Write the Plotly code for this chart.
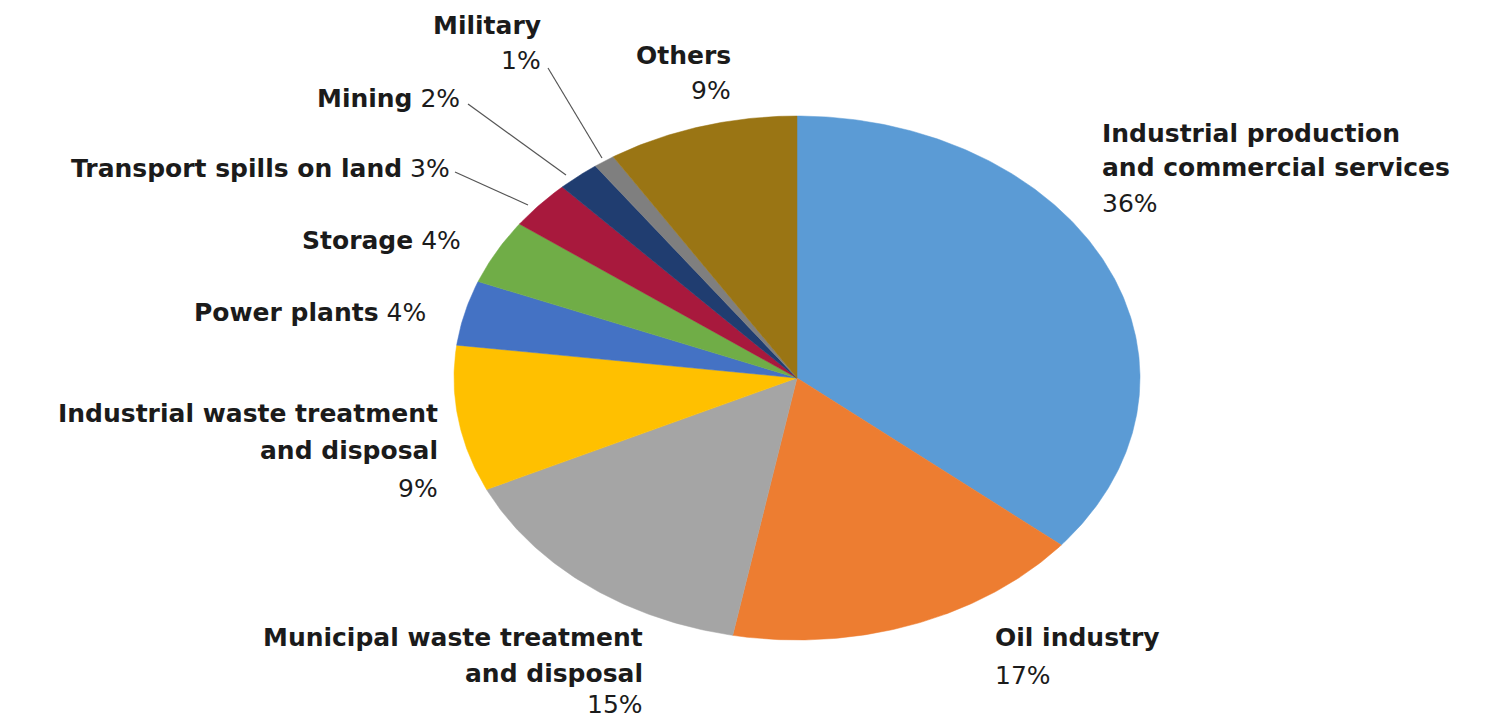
import numpy as np
import plotly.graph_objects as go

# Sources of soil contamination (share of sites, %)
categories = [
    "Industrial production and commercial services",
    "Oil industry",
    "Municipal waste treatment and disposal",
    "Industrial waste treatment and disposal",
    "Power plants",
    "Storage",
    "Transport spills on land",
    "Mining",
    "Military",
    "Others",
]
shares = [36, 17, 15, 9, 4, 4, 3, 2, 1, 9]
colors = [
    "#5B9BD5", "#ED7D31", "#A5A5A5", "#FFC000", "#4472C4",
    "#70AD47", "#A8193D", "#203D70", "#7F7F7F", "#9A7514",
]

W, H = 1496, 719
CX, CY, RX, RY = 797, 378, 343, 262

fig = go.Figure()

total = float(sum(shares))
start = 0.0
for name, val, col in zip(categories, shares, colors):
    end = start + val / total
    t = np.linspace(start, end, max(int(val * 6), 8)) * 2 * np.pi
    xs = np.concatenate([[CX], CX + RX * np.sin(t), [CX]])
    ys = np.concatenate([[CY], CY - RY * np.cos(t), [CY]])
    fig.add_trace(go.Scatter(
        x=xs, y=ys, mode="lines", fill="toself", fillcolor=col,
        line=dict(color=col, width=0.5), name=name, hoverinfo="name",
        showlegend=False,
    ))
    start = end

pct = {c: f"{v}%" for c, v in zip(categories, shares)}
FONT = "DejaVu Sans"
FS = 25
TXT = "#1b1b1b"


def label(text, x, y, anchor, bold=True):
    fig.add_annotation(
        x=x, y=y, xref="x", yref="y", text=f"<b>{text}</b>" if bold else text,
        showarrow=False, xanchor=anchor, yanchor="middle",
        font=dict(family=FONT, size=FS, color=TXT),
    )


def mixed(name, value, x, y, anchor):
    fig.add_annotation(
        x=x, y=y, xref="x", yref="y", text=f"<b>{name}</b> {value}",
        showarrow=False, xanchor=anchor, yanchor="middle",
        font=dict(family=FONT, size=FS, color=TXT),
    )


# Right-hand labels
label("Industrial production", 1100, 133, "left")
label("and commercial services", 1100, 167, "left")
label(pct[categories[0]], 1100, 203, "left", bold=False)
label("Oil industry", 993, 637, "left")
label(pct[categories[1]], 993, 675, "left", bold=False)

# Bottom-left labels
label("Municipal waste treatment", 645, 637, "right")
label("and disposal", 645, 673, "right")
label(pct[categories[2]], 645, 704, "right", bold=False)
label("Industrial waste treatment", 440, 413, "right")
label("and disposal", 440, 450, "right")
label(pct[categories[3]], 440, 488, "right", bold=False)

# Small slices on the upper left
mixed("Power plants", pct[categories[4]], 428, 312, "right")
mixed("Storage", pct[categories[5]], 463, 240, "right")
mixed("Transport spills on land", pct[categories[6]], 452, 168, "right")
mixed("Mining", pct[categories[7]], 462, 98, "right")
label("Military", 543, 25, "right")
label(pct[categories[8]], 543, 60, "right", bold=False)
label("Others", 733, 55, "right")
label(pct[categories[9]], 733, 90, "right", bold=False)

# Leader lines for the thin slices
for x0, y0, x1, y1 in [(455, 172, 528, 205), (468, 104, 566, 175), (548, 68, 602, 158)]:
    fig.add_shape(type="line", x0=x0, y0=y0, x1=x1, y1=y1, xref="x", yref="y",
                  line=dict(color="#555555", width=1.2))

fig.update_layout(
    width=W, height=H, margin=dict(l=0, r=0, t=0, b=0),
    paper_bgcolor="white", plot_bgcolor="white",
    xaxis=dict(range=[0, W], visible=False, fixedrange=True),
    yaxis=dict(range=[H, 0], visible=False, fixedrange=True),
)

fig.write_html("out.html")
